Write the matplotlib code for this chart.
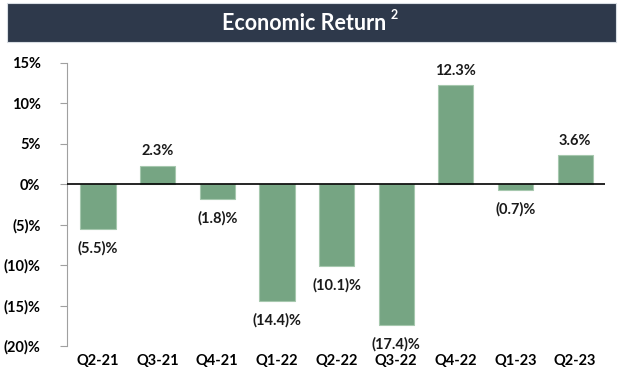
import matplotlib.pyplot as plt
from matplotlib.patches import Rectangle

quarters = ['Q2-21', 'Q3-21', 'Q4-21', 'Q1-22', 'Q2-22', 'Q3-22', 'Q4-22', 'Q1-23', 'Q2-23']
returns = [-5.5, 2.3, -1.8, -14.4, -10.1, -17.4, 12.3, -0.7, 3.6]
yticks = [15, 10, 5, 0, -5, -10, -15, -20]


def pct_label(v, decimals=1):
    # negatives shown in parentheses, accounting style
    if v < 0:
        return f"({abs(v):.{decimals}f})%"
    return f"{v:.{decimals}f}%"


def tick_label(v):
    if v < 0:
        return f"({abs(v):g})%"
    return f"{v:g}%"


plt.rcParams['font.family'] = ['Lato', 'DejaVu Sans']

fig = plt.figure(figsize=(6.4, 3.83), dpi=100)

# title banner
fig.patches.append(Rectangle((7 / 640, 1 - 42 / 383), 609 / 640, 39 / 383,
                             transform=fig.transFigure, facecolor='#2e394b',
                             edgecolor='#d8dde3', linewidth=0.8))
fig.text(304 / 640, 1 - 23 / 383, 'Economic Return', color='white', ha='center', va='center',
         fontsize=15.5, fontweight='bold')
fig.text(394 / 640, 1 - 15 / 383, '2', color='white', ha='center', va='center',
         fontsize=9, fontweight='bold')

ax = fig.add_axes([67 / 640, 1 - 346 / 383, 538 / 640, 283 / 383])
x = range(len(quarters))
ax.bar(x, returns, width=0.59, color='#76a583', edgecolor='#a6c8ae', linewidth=0.8, zorder=2)
ax.axhline(0, color='black', linewidth=1.2, zorder=3)

for i, v in enumerate(returns):
    if v >= 0:
        ax.text(i, v + 0.9, pct_label(v), ha='center', va='bottom',
                fontsize=10.5, fontweight='bold', color='#1a1a1a')
    else:
        ax.text(i, v - 1.5, pct_label(v), ha='center', va='top',
                fontsize=10.5, fontweight='bold', color='#1a1a1a')

ax.set_xlim(-0.52, 8.5)
ax.set_ylim(-20, 15)
ax.set_yticks(yticks)
ax.set_yticklabels([tick_label(t) for t in yticks], fontsize=10.5, fontweight='bold')
ax.set_xticks(list(x))
ax.set_xticklabels(quarters, fontsize=10.5, fontweight='bold')

for s in ['top', 'right', 'bottom']:
    ax.spines[s].set_visible(False)
ax.spines['left'].set_color('#a0a0a0')
ax.tick_params(axis='y', color='#a0a0a0', length=5, pad=14)
ax.tick_params(axis='x', length=0, pad=6)

plt.savefig('out.png', dpi=100)
